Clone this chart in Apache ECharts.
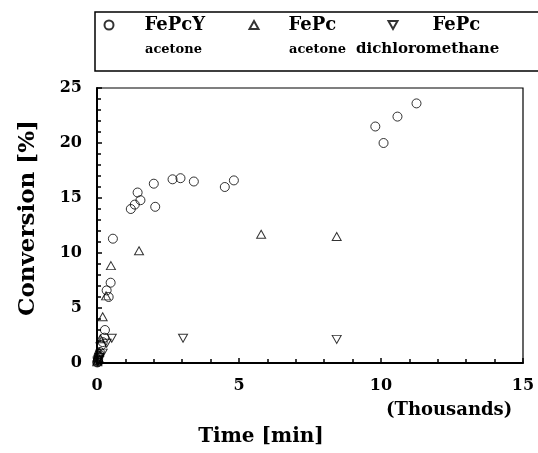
<!DOCTYPE html>
<html><head><meta charset="utf-8">
<script src="https://cdn.jsdelivr.net/npm/echarts@6/dist/echarts.min.js"></script>
<style>html,body{margin:0;padding:0;background:#fff}#c{width:538px;height:453px}</style>
</head><body><div id="c"></div>
<script>
// Data (Time in thousands of minutes, Conversion in %)
const seriesNames = ['FePcY acetone', 'FePc acetone', 'FePc dichloromethane'];
const fepcyAcetone = [[0.01,0.05],[0.02,0.1],[0.03,0.2],[0.04,0.3],[0.06,0.6],[0.08,0.8],[0.1,1.0],[0.15,1.6],[0.2,1.9],[0.26,2.3],[0.28,3.0],[0.34,6.6],[0.41,6.0],[0.48,7.3],[0.56,11.3],[1.19,14.0],[1.33,14.4],[1.43,15.5],[1.53,14.8],[2.0,16.3],[2.05,14.2],[2.66,16.7],[2.94,16.8],[3.41,16.5],[4.50,16.0],[4.82,16.6],[9.8,21.5],[10.09,20.0],[10.58,22.4],[11.25,23.6]];
const fepcAcetone = [[0.01,0.1],[0.02,0.2],[0.05,0.5],[0.08,1.0],[0.12,2.2],[0.2,4.2],[0.32,6.1],[0.49,8.85],[1.48,10.2],[5.78,11.7],[8.44,11.5]];
const fepcDichloromethane = [[0.02,0.1],[0.03,0.2],[0.05,0.35],[0.08,0.5],[0.2,0.9],[0.34,1.8],[0.52,2.25],[3.03,2.25],[8.44,2.15]];
const subLabels = ['acetone', 'acetone', 'dichloromethane'];
const xTicks = {min: 0, max: 15, interval: 5};
const yTicks = {min: 0, max: 25, interval: 5};

const FONT = 'DejaVu Serif';
const chart = echarts.init(document.getElementById('c'), null, {renderer: 'canvas'});
const markStyle = {color: 'rgba(255,255,255,0)', borderColor: '#000', borderWidth: 1};
const invTriangle = 'path://M0,0L10,0L5,8.66Z';

function legendFor(i, left, padLeft, iw, ih, icon) {
  const item = icon ? {name: seriesNames[i], icon: icon} : seriesNames[i];
  return {
    left: left, top: 16, padding: 0, itemWidth: iw, itemHeight: ih, selectedMode: false,
    data: [item],
    formatter: n => '{n|' + n.split(' ')[0] + '}',
    textStyle: {color: '#000', rich: {n: {padding: [0, 0, 0, padLeft], fontFamily: FONT, fontWeight: 'bold', fontSize: 18, color: '#000'}}}
  };
}

chart.setOption({
  animation: false,
  backgroundColor: '#fff',
  grid: {left: 97, right: 15, top: 88, bottom: 90, show: true, borderColor: '#000', borderWidth: 1.2, backgroundColor: 'transparent'},
  legend: [legendFor(0, 103.5, 26, 9, 9), legendFor(1, 248.5, 25, 9, 8), legendFor(2, 387.5, 30, 9, 8, invTriangle)],
  xAxis: {
    type: 'value', min: xTicks.min, max: xTicks.max, interval: xTicks.interval,
    name: 'Time [min]', nameLocation: 'middle', nameGap: 64,
    nameTextStyle: {fontFamily: FONT, fontWeight: 'bold', fontSize: 20, color: '#000', padding: [0, 98, 0, 0]},
    axisLine: {lineStyle: {color: '#000', width: 2}},
    axisTick: {inside: true, length: 5, lineStyle: {color: '#000', width: 1.5}},
    minorTick: {show: true, splitNumber: 5, length: 4, lineStyle: {color: '#000', width: 1.5}},
    splitLine: {show: false},
    axisLabel: {margin: 15, fontFamily: FONT, fontWeight: 'bold', fontSize: 16, color: '#000', showMaxLabel: true}
  },
  yAxis: {
    type: 'value', min: yTicks.min, max: yTicks.max, interval: yTicks.interval,
    name: 'Conversion [%]', nameLocation: 'middle', nameGap: 57,
    nameTextStyle: {fontFamily: FONT, fontWeight: 'bold', fontSize: 23, color: '#000', padding: [0, 0, 0, 15]},
    axisLine: {lineStyle: {color: '#000', width: 2}},
    axisTick: {inside: true, length: 5, lineStyle: {color: '#000', width: 1.5}},
    minorTick: {show: true, splitNumber: 5, length: 4, lineStyle: {color: '#000', width: 1.5}},
    splitLine: {show: false},
    axisLabel: {margin: 15, fontFamily: FONT, fontWeight: 'bold', fontSize: 16, color: '#000'}
  },
  graphic: [
    {type: 'rect', shape: {x: 95, y: 12, width: 460, height: 59}, style: {fill: 'none', stroke: '#000', lineWidth: 1.5}, z: 100},
    {type: 'text', left: 145, top: 43, style: {text: subLabels[0], font: 'bold 13px "DejaVu Serif"', fill: '#000'}},
    {type: 'text', left: 289, top: 43, style: {text: subLabels[1], font: 'bold 13px "DejaVu Serif"', fill: '#000'}},
    {type: 'text', left: 356, top: 42, style: {text: subLabels[2], font: 'bold 15px "DejaVu Serif"', fill: '#000'}},
    {type: 'text', left: 386, top: 401, style: {text: '(Thousands)', font: 'bold 18px "DejaVu Serif"', fill: '#000'}}
  ],
  series: [
    {name: seriesNames[0], type: 'scatter', data: fepcyAcetone, symbol: 'circle', symbolSize: 9, itemStyle: markStyle},
    {name: seriesNames[1], type: 'scatter', data: fepcAcetone, symbol: 'triangle', symbolSize: [9, 8], itemStyle: markStyle},
    {name: seriesNames[2], type: 'scatter', data: fepcDichloromethane, symbol: 'triangle', symbolRotate: 180, symbolSize: [9, 8], itemStyle: markStyle}
  ]
});
</script></body></html>
